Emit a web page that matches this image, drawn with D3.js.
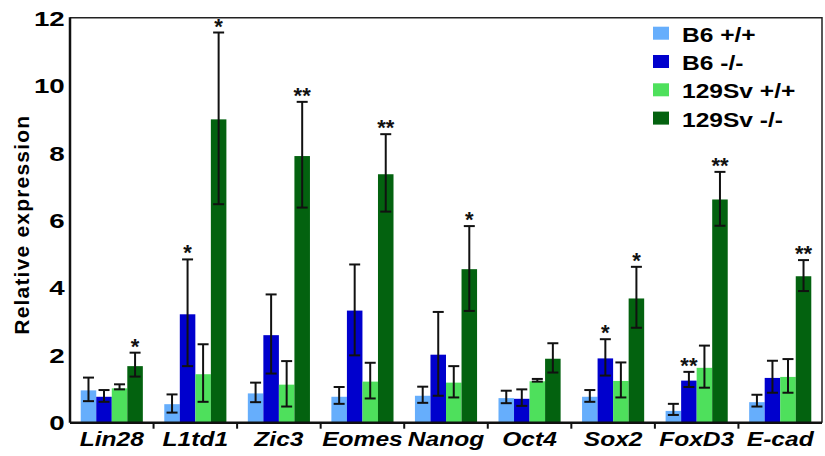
<!DOCTYPE html>
<html>
<head>
<meta charset="utf-8">
<script src="https://cdn.jsdelivr.net/npm/d3@7"></script>
<style>
  body { margin: 0; background: #fff; }
  text { font-family: "Liberation Sans", Arial, sans-serif; }
</style>
</head>
<body>
<div id="chart"></div>
<script>
// gene names along the x axis
const genes = ["Lin28", "L1td1", "Zic3", "Eomes", "Nanog", "Oct4", "Sox2", "FoxD3", "E-cad"];
const groups = ["B6 +/+", "B6 -/-", "129Sv +/+", "129Sv -/-"];
const yTicks = [0, 2, 4, 6, 8, 10, 12];

// mean values per group (same order as genes)
const b6wt   = [0.96, 0.55, 0.87, 0.77, 0.80, 0.73, 0.77, 0.35, 0.61];
const b6ko   = [0.77, 3.22, 2.60, 3.33, 2.02, 0.71, 1.91, 1.25, 1.33];
const svwt   = [1.02, 1.44, 1.13, 1.22, 1.19, 1.23, 1.24, 1.63, 1.36];
const svko   = [1.68, 9.01, 7.92, 7.38, 4.56, 1.90, 3.69, 6.63, 4.35];

// error bar ends (upper / lower)
const b6wtHi = [1.34, 0.84, 1.19, 1.06, 1.07, 0.95, 0.97, 0.56, 0.83];
const b6wtLo = [0.64, 0.30, 0.61, 0.56, 0.59, 0.58, 0.62, 0.23, 0.48];
const b6koHi = [0.97, 4.85, 3.81, 4.70, 3.29, 0.99, 2.48, 1.51, 1.84];
const b6koLo = [0.62, 1.68, 1.46, 2.00, 0.80, 0.50, 1.40, 1.06, 0.89];
const svwtHi = [1.14, 2.33, 1.83, 1.78, 1.68, 1.30, 1.79, 2.29, 1.89];
const svwtLo = [0.99, 0.62, 0.48, 0.72, 0.75, 1.22, 0.75, 1.04, 0.89];
const svkoHi = [2.08, 11.59, 9.53, 8.57, 5.84, 2.36, 4.63, 7.45, 4.83];
const svkoLo = [1.37, 6.49, 6.39, 6.27, 3.32, 1.49, 2.82, 5.85, 3.91];

// significance marks
const b6koSig = ["", "*", "", "", "", "", "*", "**", ""];
const svkoSig = ["*", "*", "**", "**", "*", "", "*", "**", "**"];

const colors = ["#66aefc", "#0000cd", "#4ee05c", "#03620f"];

const means = [b6wt, b6ko, svwt, svko];
const highs = [b6wtHi, b6koHi, svwtHi, svkoHi];
const lows  = [b6wtLo, b6koLo, svwtLo, svkoLo];
const sigs  = [null, b6koSig, null, svkoSig];

const data = [];
genes.forEach((g, i) => {
  groups.forEach((s, j) => {
    data.push({gene: g, group: s, value: means[j][i], hi: highs[j][i], lo: lows[j][i],
               sig: sigs[j] ? sigs[j][i] : ""});
  });
});

const width = 825;
const height = 456;
const mLeft = 70, mRight = 822, mTop = 18.7, mBottom = 422.7;

const svg = d3.select("#chart")
  .append("svg")
  .attr("width", width)
  .attr("height", height);

const x0 = d3.scaleBand()
  .domain(genes)
  .range([mLeft, mRight])
  .padding(0);

const x1 = d3.scaleBand()
  .domain(groups)
  .range([0, x0.bandwidth()])
  .paddingInner(0)
  .paddingOuter(0.69);

const y = d3.scaleLinear()
  .domain([0, 12])
  .range([mBottom, mTop]);

const color = d3.scaleOrdinal().domain(groups).range(colors);

// bars
svg.append("g")
  .selectAll("rect")
  .data(data)
  .join("rect")
  .attr("x", d => x0(d.gene) + x1(d.group))
  .attr("y", d => y(d.value))
  .attr("width", x1.bandwidth())
  .attr("height", d => y(0) - y(d.value))
  .attr("fill", d => color(d.group));

// error bars
const err = svg.append("g")
  .attr("stroke", "#111")
  .attr("stroke-width", 2);
const cx = d => x0(d.gene) + x1(d.group) + x1.bandwidth() / 2;
const cap = 5.5;

err.selectAll("line.v")
  .data(data)
  .join("line")
  .attr("class", "v")
  .attr("x1", cx).attr("x2", cx)
  .attr("y1", d => y(d.hi)).attr("y2", d => y(d.lo));
err.selectAll("line.hi")
  .data(data)
  .join("line")
  .attr("class", "hi")
  .attr("x1", d => cx(d) - cap).attr("x2", d => cx(d) + cap)
  .attr("y1", d => y(d.hi)).attr("y2", d => y(d.hi));
err.selectAll("line.lo")
  .data(data)
  .join("line")
  .attr("class", "lo")
  .attr("x1", d => cx(d) - cap).attr("x2", d => cx(d) + cap)
  .attr("y1", d => y(d.lo)).attr("y2", d => y(d.lo));

// stars
svg.append("g")
  .selectAll("text")
  .data(data.filter(d => d.sig))
  .join("text")
  .attr("x", cx)
  .attr("y", d => y(d.hi) + 1)
  .attr("text-anchor", "middle")
  .style("font-size", "22px")
  .style("font-weight", "bold")
  .attr("fill", "#111")
  .text(d => d.sig);

// frame (top and right)
svg.append("path")
  .attr("d", `M${mLeft},${mTop - 1}H${mRight}V${mBottom}`)
  .attr("fill", "none")
  .attr("stroke", "#222")
  .attr("stroke-width", 1.5);

// y axis
const yAxis = svg.append("g")
  .attr("transform", `translate(${mLeft},0)`)
  .call(d3.axisLeft(y).tickValues(yTicks).tickSize(0).tickPadding(7));
yAxis.select(".domain").attr("stroke", "#111").attr("stroke-width", 2.5)
  .attr("d", `M0,${mTop - 1.5}V${mBottom}`);
yAxis.selectAll("text")
  .style("font-size", "21px")
  .style("font-weight", "bold")
  .attr("fill", "#000")
  .attr("transform", "scale(1.32,1)")
  .attr("x", -4);

// x axis
const xAxis = svg.append("g")
  .attr("transform", `translate(0,${mBottom})`)
  .call(d3.axisBottom(x0).tickSize(0).tickPadding(8));
xAxis.select(".domain").attr("stroke", "#111").attr("stroke-width", 2.5)
  .attr("d", `M${mLeft},0H${mRight}`);
xAxis.selectAll("text")
  .style("font-size", "21px")
  .style("font-weight", "bold")
  .style("font-style", "italic")
  .attr("fill", "#000")
  .attr("transform", "scale(1.17,1)");

// separators between gene groups
xAxis.selectAll("line.sep")
  .data(genes.slice(1))
  .join("line")
  .attr("class", "sep")
  .attr("x1", d => x0(d)).attr("x2", d => x0(d))
  .attr("y1", 0).attr("y2", 6)
  .attr("stroke", "#111")
  .attr("stroke-width", 2);

// y axis title
svg.append("text")
  .attr("transform", `translate(29,${(mTop + mBottom) / 2 + 4}) rotate(-90)`)
  .attr("text-anchor", "middle")
  .style("font-size", "21px")
  .style("font-weight", "bold")
  .style("letter-spacing", "1.2px")
  .attr("fill", "#000")
  .text("Relative expression");

// legend
const legend = svg.append("g")
  .selectAll("g")
  .data(groups)
  .join("g")
  .attr("transform", (d, i) => `translate(653,${41.7 + i * 28.3})`);
legend.append("rect")
  .attr("x", 0).attr("y", -15)
  .attr("width", 16).attr("height", 13)
  .attr("fill", d => color(d));
legend.append("text")
  .attr("x", 29 / 1.17)
  .attr("transform", "scale(1.17,1)")
  .style("font-size", "21px")
  .style("font-weight", "bold")
  .attr("fill", "#000")
  .text(d => d);
</script>
</body>
</html>
